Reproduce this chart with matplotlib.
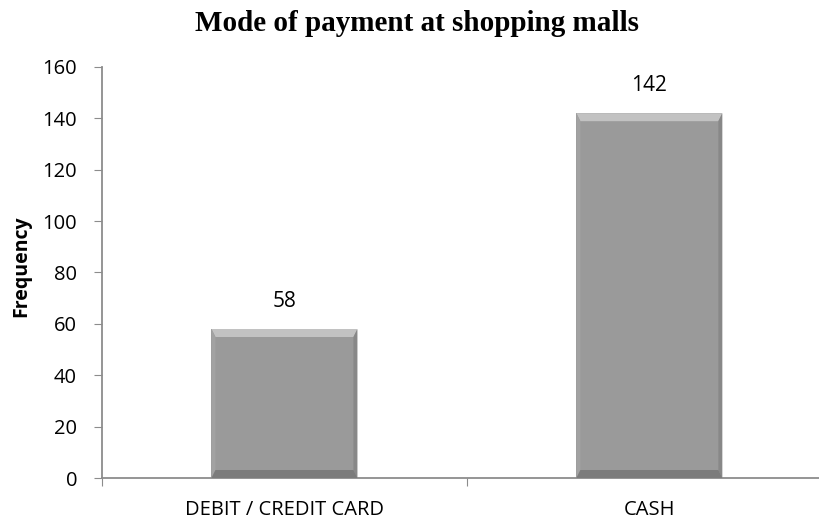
import matplotlib.pyplot as plt
import numpy as np
from matplotlib.patches import Polygon
from matplotlib.transforms import IdentityTransform

categories = ['DEBIT / CREDIT CARD', 'CASH']
frequency = [58, 142]

fig = plt.figure(figsize=(8.2, 5.21), dpi=100)
ax = fig.add_axes([0.1244, 0.0825, 0.89, 0.789])

x = np.arange(len(categories))
width = 0.4
bars = ax.bar(x, frequency, width, color='#9a9a9a', edgecolor='none', zorder=2)

ax.set_xlim(-0.5, 1.5)
ax.set_ylim(0, 160)
ax.set_yticks(np.arange(0, 161, 20))
ax.set_xticks([-0.5, 0.5, 1.5], minor=False)
ax.set_xticklabels([])
ax.set_xticks(x, minor=True)
ax.set_xticklabels(categories, minor=True)
ax.tick_params(axis='x', which='minor', length=0, pad=16, labelsize=14.5)
ax.tick_params(axis='x', which='major', length=6, color='#8c8c8c', direction='out')
ax.tick_params(axis='y', length=6, color='#8c8c8c', direction='out', pad=12, labelsize=14.5)

for side in ['top', 'right']:
    ax.spines[side].set_visible(False)
for side in ['left', 'bottom']:
    ax.spines[side].set_color('#8c8c8c')
    ax.spines[side].set_linewidth(1.3)

for lbl in ax.get_xticklabels(minor=True) + ax.get_yticklabels():
    lbl.set_fontfamily('Open Sans')

fig.text(0.026, 0.49, 'Frequency', rotation=90, ha='center', va='center',
         fontsize=14, fontweight='bold', family='Open Sans')
fig.text(0.508, 0.955, 'Mode of payment at shopping malls', ha='center', va='center',
         fontsize=21, fontweight='bold', family='Liberation Serif')

# value labels above bars
for rect, val in zip(bars, frequency):
    ax.annotate(str(val), (rect.get_x() + rect.get_width() / 2, val),
                xytext=(0, 20), textcoords='offset points', ha='center', va='center',
                fontsize=15, family='Open Sans')

# bevelled edges on each bar, built in pixel space
fig.canvas.draw()
tb, sd = 8, 4
for rect in bars:
    (x0, y0), (x1, y1) = ax.transData.transform(
        [(rect.get_x(), 0), (rect.get_x() + rect.get_width(), rect.get_height())])
    faces = [
        ([(x0, y1), (x1, y1), (x1 - sd, y1 - tb), (x0 + sd, y1 - tb)], '#c2c2c2'),
        ([(x0, y0), (x0, y1), (x0 + sd, y1 - tb), (x0 + sd, y0 + tb)], '#a2a2a2'),
        ([(x1, y0), (x1, y1), (x1 - sd, y1 - tb), (x1 - sd, y0 + tb)], '#888888'),
        ([(x0, y0), (x1, y0), (x1 - sd, y0 + tb), (x0 + sd, y0 + tb)], '#7c7c7c'),
    ]
    for pts, col in faces:
        ax.add_patch(Polygon(pts, closed=True, facecolor=col, edgecolor='none',
                             transform=IdentityTransform(), zorder=3))

fig.savefig('out.png', dpi=100)
